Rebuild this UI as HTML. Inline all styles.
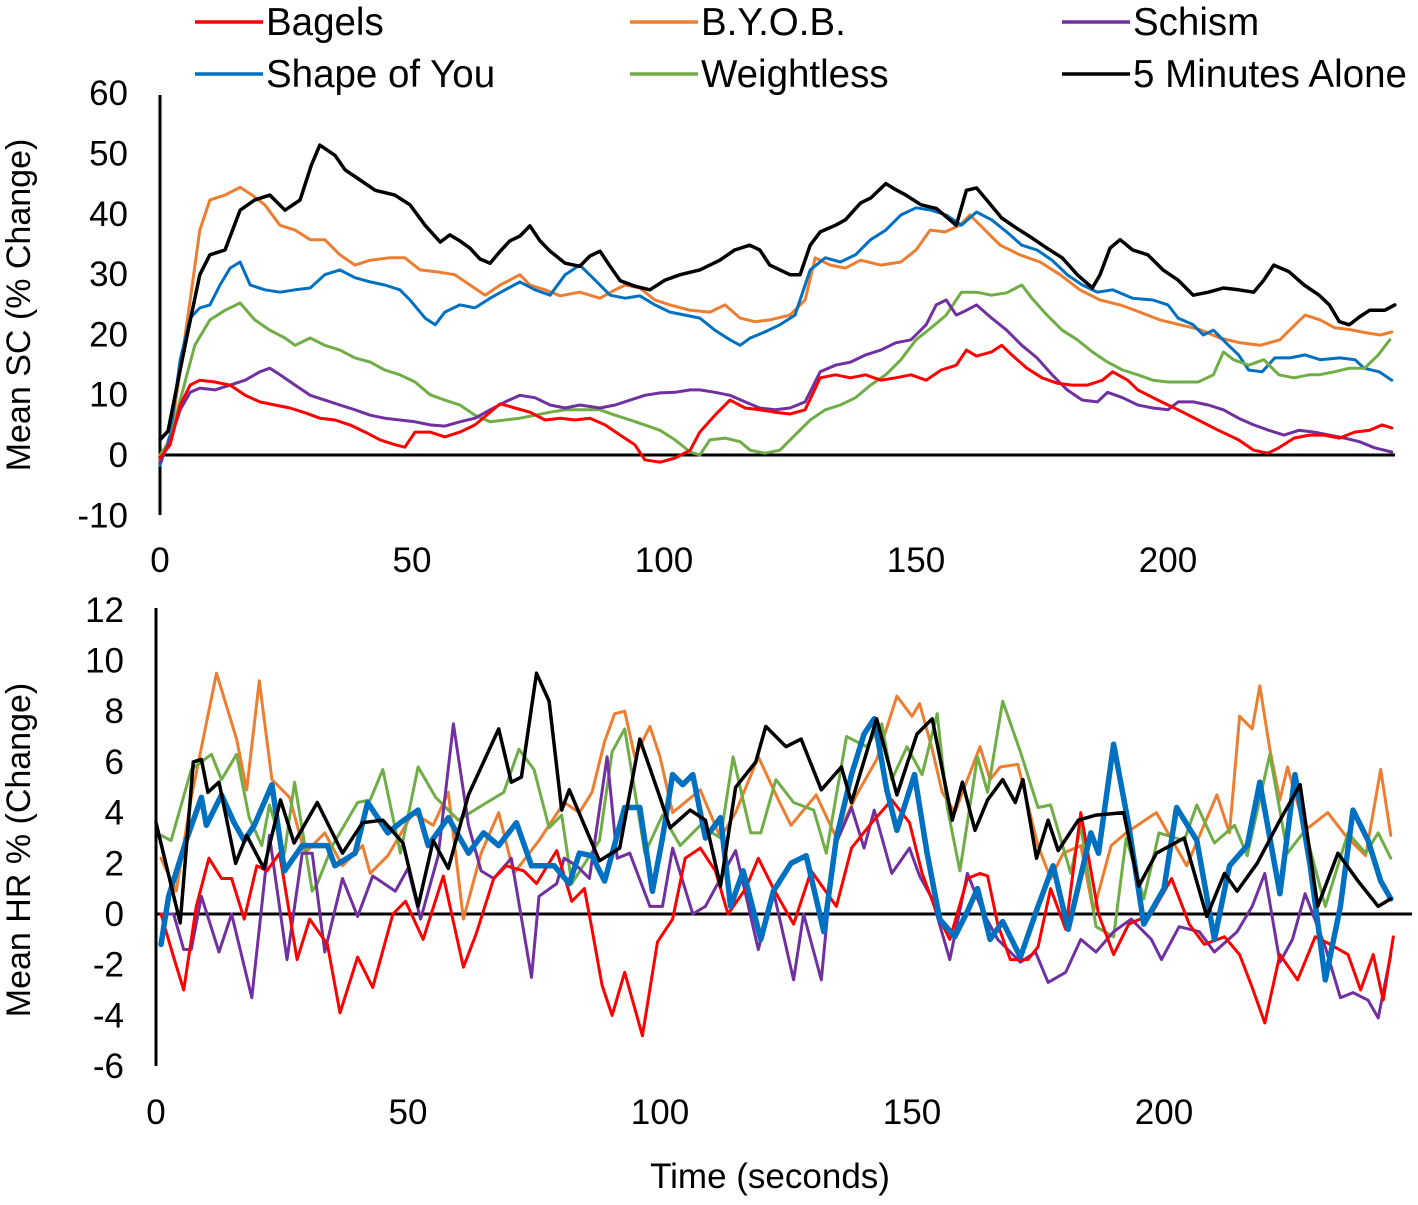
<!DOCTYPE html>
<html><head><meta charset="utf-8"><style>
html,body{margin:0;padding:0;background:#fff;}
svg{display:block;font-family:"Liberation Sans",Arial,sans-serif;}
</style></head><body>
<svg id="chart" width="1418" height="1205" viewBox="0 0 1418 1205" xmlns="http://www.w3.org/2000/svg">
<g id="legend"></g>
<g id="top"></g>
<g id="bot"></g>
<text x="0" y="0" font-size="34" text-anchor="middle" transform="translate(30,305) rotate(-90)">Mean SC (% Change)</text>
<text x="0" y="0" font-size="34" text-anchor="middle" transform="translate(30,850) rotate(-90)">Mean HR % (Change)</text>
<text x="770" y="1188" font-size="35" text-anchor="middle">Time (seconds)</text>
</svg>
<script>
const seriesNames=["Bagels","B.Y.O.B.","Schism","Shape of You","Weightless","5 Minutes Alone"];
const seriesColors=["#ff0000","#ed7d31","#7030a0","#0070c0","#70ad47","#000000"];
const topYTicks=[60,50,40,30,20,10,0,-10];
const botYTicks=[12,10,8,6,4,2,0,-2,-4,-6];
const xTicks=[0,50,100,150,200];

// ---- Top panel (SC) data ----
const scBagelsT=[0,2,4,6,7.9,10.9,13.9,16.9,19.8,22.8,25.8,28.8,31.7,34.7,37.7,40.7,43.7,46.6,48.6,50.6,53.6,56.5,59.5,62.5,65.5,67.5,70.4,73.4,76.4,79.4,82.3,85.3,88.3,91.3,94.2,96.2,99.2,102.2,105.2,107.1,110.1,113.1,116.1,119,122,125,128,131,134,137,140,143,146,149,152,155,158,160,162,165,167,169,172,175,178,181,184,187,189,192,194,198,202,206,210,214,217,219.8,222,225,228,231,234,237,240,242.5,244.4];
const scBagelsV=[-0.5,1.7,8.3,11.6,12.4,12.1,11.6,9.9,8.8,8.3,7.8,7,6.1,5.8,5,3.8,2.5,1.7,1.3,3.8,3.8,3,3.8,5,7.1,8.5,7.8,7.1,5.8,6.1,5.8,6.1,5,3.3,1.7,-0.8,-1.2,-0.5,0.8,3.8,6.6,9.1,7.8,7.5,7.1,6.8,7.5,12.8,13.3,12.8,13.3,12.4,12.8,13.3,12.4,14.1,14.9,17.4,16.4,17.1,18.2,16.6,14.4,12.8,11.9,11.6,11.6,12.4,13.8,12.4,10.8,9.1,7.5,5.8,4.1,2.5,0.8,0.3,1.2,2.8,3.3,3.3,2.8,3.8,4.1,5,4.5];
const scByobT=[0,2,4,6,7.9,9.9,12.9,15.9,18.3,20.8,23.8,26.8,29.8,32.7,35.7,38.7,41.7,45.6,48.6,51.6,55.6,58.5,61.5,64.5,67.5,69.4,71.4,73.4,76.4,79.4,83.3,87.3,90.3,92.3,95.2,98.2,101.2,105.2,109.1,112.1,115.1,118.1,121,125,128,130,133,136,139,143,147,150,152.8,155.8,158.7,160.7,163.7,166.7,170.6,174.6,178.6,182.5,186.5,190.5,194.4,198.4,202.4,206.3,210.3,214.3,218.3,222.2,225.2,227.2,230.2,233.1,236.1,239.1,242.1,244.4];
const scByobV=[-0.8,2.5,14.1,25.7,37.3,42.3,43.1,44.4,43.1,41.5,38.1,37.3,35.7,35.7,33.2,31.5,32.3,32.7,32.7,30.7,30.3,29.9,28.2,26.5,28.2,29,29.9,28.2,27.4,26.4,27,26,27.4,28.2,27.7,25.7,24.9,24,23.7,24.9,22.7,22.1,22.4,23.2,25.7,32.7,31.5,31,32.3,31.5,32,34,37.3,37,38.1,39.8,37.3,34.8,33.2,32,29.9,27.4,25.7,24.9,23.7,22.4,21.6,20.8,19.4,18.6,18.2,19.1,21.6,23.2,22.4,21.1,20.8,20.3,19.9,20.4];
const scSchismT=[0,2,4,6,7.9,10.9,13.9,16.9,19.8,21.8,23.8,26.8,29.8,32.7,35.7,38.7,41.7,44.6,47.6,50.6,53.6,56.5,59.5,62.5,65.5,68.5,71.4,74.4,77.4,80.4,83.3,87.3,90.3,93.3,96.2,99.2,102.2,105.2,107.1,110.1,113.1,116.1,119,122,125,128,131,134,137,140,143,146,149,152,154,156,158,160,162,165,168,171,174,177,180,183,186,188,191,194,197,200,202,205,208,211,214,217,220,223,226,229,232,235,238,241,244.4];
const scSchismV=[-1.2,2.5,7.5,10.4,11.1,10.8,11.6,12.4,13.8,14.4,13.3,11.6,9.9,9.1,8.3,7.5,6.6,6.1,5.8,5.5,5,4.8,5.5,6.1,7.5,8.8,9.9,9.5,8.3,7.8,8.3,7.8,8.3,9.1,9.9,10.3,10.4,10.8,10.8,10.4,9.9,8.8,7.8,7.5,7.8,8.8,13.8,14.9,15.4,16.6,17.4,18.6,19.1,21.6,24.9,25.7,23.2,24,24.9,22.7,20.7,18.2,16.1,13.3,10.8,9.1,8.8,10.4,9.5,8.3,7.8,7.5,8.8,8.8,8.3,7.5,6.1,5,4.1,3.3,4.1,3.8,3.3,2.8,2.2,1.2,0.5];
const scShapeT=[0,2,4,6,7.9,9.9,11.9,13.9,15.9,17.9,20.8,23.8,26.8,29.8,32.7,35.7,38.7,41.7,44.6,47.6,49.6,52.6,54.6,56.5,59.5,62.5,65.5,68.5,71.4,74.4,77.4,80.4,83.3,86.3,89.3,92.3,95.2,98.2,101.2,104.2,107.1,110.1,113.1,115.1,117.1,120,123,126,129,132,135,138,141,144,147,150,153,156,159,162,165,168,171,174,177,180,183,186,189,193,197,200,202,205,207,209,212,214,216,218.7,221.2,224.2,227.2,230.2,234.1,237.1,238.9,241.9,244.4];
const scShapeV=[-1.7,3.3,15.8,22.7,24.4,24.9,28.2,31,32,28.2,27.4,27,27.4,27.7,29.9,30.7,29.4,28.7,28.2,27.4,25.7,22.7,21.6,23.7,24.9,24.4,26,27.4,28.7,27.4,26.5,29.9,31.5,29,26.5,26,26.4,24.9,23.7,23.2,22.7,20.7,19.1,18.2,19.4,20.4,21.6,23.2,30.7,32.7,32,33.2,35.7,37.3,39.8,41,40.6,39.8,38.1,40.3,39,37,34.8,34,32.3,29.9,28.2,27,27.4,26,25.7,24.9,22.7,21.6,19.9,20.7,18.2,16.6,14.1,13.8,16.1,16.1,16.6,15.8,16.1,15.8,14.4,13.8,12.4];
const scWeightT=[0,2,4,6.9,9.9,12.9,15.9,18.8,21.8,24.8,26.8,29.8,32.7,35.7,38.7,41.7,44.6,47.6,50.6,53.6,56.5,59.5,62.5,65.5,68.5,71.4,74.4,77.4,80.4,83.3,87.3,90.3,93.3,96.2,99.2,102.2,105.2,107.1,109.1,112.1,115.1,117.1,120,123,126,129,132,135,138,141,144,147,150,153,156,159,162,165,168,171,173,176,179,182,185,188,191,194,197,200,203,206,209,211,213,216,219,222,225,228,230,233,236,239,241.7,244];
const scWeightV=[0,2.5,9.1,18.2,22.4,24,25.2,22.4,20.7,19.4,18.2,19.4,18.2,17.4,16.1,15.4,14.1,13.3,12.1,10,9.1,8.3,6.6,5.5,5.8,6.1,6.6,7.1,7.5,7.5,7.5,6.6,5.8,5,4.1,2.5,0.5,0,2.5,2.8,2.2,0.8,0.3,0.8,3.3,5.8,7.5,8.3,9.5,11.6,13.3,15.8,19.1,21.1,23.2,27,27,26.5,26.9,28.2,26,23.2,20.7,19.1,17.1,15.4,14.1,13.3,12.4,12.1,12.1,12.1,13.3,17.1,15.8,14.9,15.8,13.3,12.8,13.3,13.3,13.8,14.4,14.4,16.6,19.1];
const scFiveT=[0,1.6,3.6,5.6,7.9,9.9,12.9,15.9,18.8,21.8,24.8,27.8,30,31.7,34.7,36.7,39.7,42.7,46.6,49.6,52.6,55.6,57.5,59.5,61.5,63.5,65.5,67.5,69.4,71.4,73.4,75.4,77.4,80.4,83.3,85.3,87.3,89.3,91.3,94.2,97.2,100.2,103.2,107.1,111.1,114,117,119,121,125,127,129,131,134,136,139,141,144,146,148,151,154,156,158,160,162,164,167,170,173,176,179,182,185,186.5,188.5,190.5,193,196,199,202,205,208,211,214,217,219,221,224,227,230,232,234,236,238,240,243,245];
const scFiveV=[2.5,4,12.4,20.7,29.9,33.2,34,40.6,42.3,43.1,40.6,42.3,48,51.4,49.7,47.3,45.6,43.9,43.1,41.5,38.1,35.3,36.5,35.5,34.3,32.5,31.8,33.8,35.5,36.3,38,35.5,33.8,31.8,31.3,33,33.8,31.3,28.9,28,27.4,29,29.9,30.7,32.3,34,34.8,34,31.5,29.9,29.9,34.8,37,38.1,39,41.8,42.6,45,44,43.1,41.5,40.9,39.5,38.1,43.9,44.3,42.3,39.3,37.6,36,34.3,32.7,29.9,27.7,29.9,34.3,35.7,34,33.2,30.7,29,26.5,27,27.7,27.4,27,29,31.5,30.4,28.2,26.5,24.9,22.1,21.6,22.9,24,24,24.9];

// ---- Bottom panel (HR) data ----
const hrBagelsT=[1,3.5,5.5,8,10.5,13,15,17.5,20,22,24.5,28,30.5,34,36.5,40,43,47,49.5,53,57,61,63.5,67,69.5,73,75.5,79.5,82.5,85,86.5,88.5,90.5,93,96.5,99.5,102.5,105,108,111,113.5,117,119.5,122.5,126.5,130,135,138,142,146,149.5,152,155,157.5,161,163.5,165,167,169.5,173,175,177.5,180.5,183.5,187,190,193,197.5,201.5,205,208,212,215,217.5,220,223,226.5,230,233,236.5,239,241.5,243.5,245.5];
const hrBagelsV=[0,-1.7,-3,0.3,2.2,1.4,1.4,-0.2,1.9,1.7,2.4,-1.8,-0.2,-1.2,-3.9,-1.7,-2.9,0,0.5,-1,1.5,-2.1,-0.8,1.4,1.9,1.7,1.2,2.5,0.5,1,-0.6,-2.8,-4,-2.3,-4.8,-1.1,-0.2,2.2,2.6,1.7,0,1,2.2,1,-0.4,1.7,0.3,2.6,3.6,4.5,3.6,1.6,0,-1,1.4,1.6,1.5,-0.4,-1.8,-1.8,-1.3,1,-0.6,4,0,-1.6,-0.4,0,1.4,-0.4,-1.2,-0.9,-1.6,-2.9,-4.3,-1.6,-2.6,-0.9,-1.2,-1.6,-3,-1.6,-3.4,-0.9];
const hrByobT=[1,4,7,12,16,18,20.5,23,26.5,29.5,33.5,37,41,42.5,46,51,55,58,61,64.5,68,71,76,81,84,86.5,89,91,93,95,98,100,102.5,108,112,115,119.5,123.5,126,131,135,139,143,147,150,151.5,154,156,158.5,163.5,165.5,167.5,171,175,177.5,180,183.5,186,189.5,192.5,198.5,204.5,210.5,213,215,217.5,219,221,223,224.5,228,232.5,236,240,243,245];
const hrByobV=[2.2,0.9,4.6,9.5,6.9,4.9,9.2,5.3,4.6,2.4,3.2,1.9,2.7,1.6,2.3,4,3.5,4.8,-0.2,2.4,4,1.6,2.9,4.4,4,4.8,6.8,7.9,8,6.2,7.4,6.2,4,4.9,3,4,6.2,4.5,3.5,4.7,3,4.7,6.1,8.6,7.8,8.3,6.5,4.8,4,6.6,5.3,5.8,5.9,2.7,1.4,2.4,2.7,0.1,2.7,3.2,4,1.9,4.7,3.2,7.8,7.3,9,6.5,4.5,5.8,3.3,4,3.1,2.3,5.7,3.1];
const hrSchismT=[1,3.5,5.5,7,9,12.5,15,19,22.5,26,29,31,33.5,37,40,43,47.5,50,52.5,56,59,62,64.5,67,70.5,74.5,76,79.5,81,83.5,86,89.5,91.5,94,98,100.5,102.5,106.5,109,112,115,119.5,122.5,126.5,128.5,132,134.5,138,140.5,142.5,146,149.5,151.5,154,157.5,161,164,167,169,171.5,174.5,177,180.5,183.5,186.5,190,193.5,197.5,199.5,203,207,210,214.5,217.5,220,223,225.5,228,232,235,237.5,240.5,242.5,245];
const hrSchismV=[0,0,-1.4,-1.4,0.7,-1.5,0,-3.3,3.1,-1.8,2.4,2.4,-1.5,1.4,-0.1,1.5,0.9,1.8,-0.2,2.3,7.5,3.5,1.7,1.4,2.2,-2.5,0.7,1.2,2.2,1.9,1.4,6.2,2.2,2.4,0.3,0.3,2.6,0,0.3,1.4,2.5,-1.4,0.9,-2.6,0,-2.6,2.6,4.2,2.6,4.1,1.6,2.6,1.5,0.6,-1.8,1.6,0.1,-1,-1.4,-1.9,-1.5,-2.7,-2.3,-1,-1.5,-0.7,-0.2,-1,-1.8,-0.5,-0.7,-1.5,-0.7,0.3,1.6,-1.9,-1,0.8,-1.3,-3.3,-3.1,-3.4,-4.1,-1.6];
const hrShapeT=[1,2.5,6,9,10,13,15.5,17.5,19.5,23,25.5,29,34,35.5,39.5,42,46,48.5,52,54,58,62,65,68,71.5,74.5,79,82,84,86.5,89,93,96,98.5,100.5,102.5,104.5,106.5,109,112,114,116.5,120,122.5,126,129,132.5,135,138,140.5,142.5,145,147,150.5,153,155.5,158.5,161,163,165.5,168,171.5,175,178,181,185.5,187,190,193,196,200,202.5,206.5,210,213,216.5,219,223,226,229,232,235,237.5,240.5,243,245];
const hrShapeV=[-1.2,0.7,2.9,4.6,3.5,4.7,3.6,2.9,3.5,5.1,1.7,2.7,2.7,1.9,2.4,4.4,3.2,3.6,4.1,2.7,3.8,2.4,3.2,2.7,3.6,1.9,1.9,1.2,2.4,2.3,1.3,4.2,4.2,0.9,3,5.5,5.1,5.5,3,3.8,0.3,1.7,-1,0.9,2,2.3,-0.7,3,5.5,7.1,7.7,4.9,3.3,5.5,2.4,-0.2,-0.9,0.1,1,-1,-0.3,-1.7,0.3,1.9,-0.6,3.2,2.4,6.7,3.5,-0.4,1,4.2,2.9,-1,1.9,2.7,5.2,0.8,5.5,1.9,-2.6,0.3,4.1,2.9,1.3,0.6];
const hrWeightT=[1,3,7,11,13,16,18.5,21,22.5,25.5,27.5,31,32,35,40,42.5,45,48.5,52,55.5,60,64,69,72,75,78,80.5,82.5,88,90.5,93,97,100.5,104,108,112,114.5,118,120,123,126.5,130.5,133,137,141,144,146,149,152,155,157,159.5,163,165,168,171.5,175,177.5,181.5,183.5,186.5,190,192.5,196,199,204,206.5,210,214,216.5,221,224.5,228,232,236.5,240,242.5,245];
const hrWeightV=[3.1,2.9,5.7,6.3,5.3,6.3,3.8,2.7,4.3,2.4,5.2,0.9,1.2,2.7,4.4,4.5,5.7,2.4,5.8,4.6,3.7,4.2,4.8,6.5,5.7,3.4,3.9,1.2,2.9,6.4,7.3,2.4,3.9,2.7,3.5,3,6.2,3.2,3.2,5.3,4.4,4.1,2.4,7,6.6,7.5,5.3,6.6,5.5,7.9,4.2,1.7,6.2,4.8,8.4,6.4,4.2,4.3,1.6,3.5,-0.5,-0.9,3,0.6,3.2,2.9,4.3,2.8,3.5,2.3,6.3,2.4,3.3,0.3,3.2,2.4,3.2,2.2];
const hrFiveT=[0,4.8,7.4,9,10.3,12.5,15.8,18,21.4,24.7,27.4,32,37,41,45,49,52,55,58,62,68,70.5,72.5,75.5,78,80.5,82,88,92,96,100,102,106,109,112,115,119,121,125,128,132,136,138,143,147,151,154,158,160,162.5,165,168,170.5,172,174.7,177,179,183,186.5,192,195,198.5,204,208.5,212,214.5,218.5,223,227,230.5,234.5,238.5,242.5,245];
const hrFiveV=[3.6,-0.35,6,6.1,4.8,5.2,2,3.1,1.8,4.5,2.8,4.4,2.4,3.6,3.7,2.8,0.3,2.9,1.8,4.7,7.3,5.2,5.4,9.5,8.4,4.1,4.9,2.1,2.6,6.9,4.6,3.4,4.1,3.7,1.1,5,6,7.4,6.6,6.9,4.9,5.8,4.4,7.7,4.7,7.1,7.7,3.7,5.2,3.3,4.5,5.3,4.4,5.3,2.2,3.7,2.5,3.7,3.9,4,1.1,2.4,3,-0.1,1.6,0.9,2,3.7,5.1,0.3,2.4,1.3,0.3,0.6];

const NS="http://www.w3.org/2000/svg";
function mk(tag,attrs,parent){const e=document.createElementNS(NS,tag);for(const k in attrs)e.setAttribute(k,attrs[k]);parent.appendChild(e);return e;}

// axis functions
const topX=t=>160+t*5.04, topY=v=>455-v*6.03;
const botX=t=>156+t*5.04, botY=v=>914-v*25.35;

function panel(g,xf,yf,yTicks,xAxisY,yTop,yBot,yAxisX,xEnd,tickLabelY,prefix,sets){
  yTicks.forEach(v=>{
    const t=mk('text',{x:yAxisX-32,y:yf(v)+12,'font-size':35,'text-anchor':'end'},g);
    t.textContent=v;
    
    
  });
  xTicks.forEach(v=>{
    const t=mk('text',{x:xf(v),y:tickLabelY,'font-size':35,'text-anchor':'middle'},g);
    t.textContent=v;
    
    
  });
  const ya=mk('line',{x1:yAxisX,y1:yTop,x2:yAxisX,y2:yBot,stroke:'#000','stroke-width':3},g);
  
  
  const xa=mk('line',{x1:yAxisX,y1:xAxisY,x2:xEnd,y2:xAxisY,stroke:'#000','stroke-width':3},g);
  
  
  sets.forEach(s=>{
    const d=s.T.map((t,i)=>(i?'L':'M')+xf(t).toFixed(1)+' '+yf(s.V[i]).toFixed(1)).join(' ');
    const p=mk('path',{d:d,fill:'none',stroke:seriesColors[s.c],'stroke-width':s.w,'stroke-linejoin':'round','stroke-linecap':'round'},g);
    
    
  });
}

panel(document.getElementById('top'),topX,topY,topYTicks,455,95,515,160,1395,572,'sc',[
  {T:scByobT,V:scByobV,c:1,w:3},
  {T:scShapeT,V:scShapeV,c:3,w:3},
  {T:scWeightT,V:scWeightV,c:4,w:3},
  {T:scSchismT,V:scSchismV,c:2,w:3},
  {T:scBagelsT,V:scBagelsV,c:0,w:3},
  {T:scFiveT,V:scFiveV,c:5,w:3.5}
]);
panel(document.getElementById('bot'),botX,botY,botYTicks,914,608,1066,156,1412,1124,'hr',[
  {T:hrByobT,V:hrByobV,c:1,w:3},
  {T:hrWeightT,V:hrWeightV,c:4,w:3},
  {T:hrSchismT,V:hrSchismV,c:2,w:3},
  {T:hrBagelsT,V:hrBagelsV,c:0,w:3},
  {T:hrShapeT,V:hrShapeV,c:3,w:5.5},
  {T:hrFiveT,V:hrFiveV,c:5,w:3.5}
]);

// legend
const legX=[195,630,1062], legY=[22,74];
const lg=document.getElementById('legend');
seriesNames.forEach((n,i)=>{
  const col=i%3,row=Math.floor(i/3);
  const g=mk('g',{},lg);
  
  
  mk('line',{x1:legX[col],y1:legY[row],x2:legX[col]+68,y2:legY[row],stroke:seriesColors[i],'stroke-width':3.5},g);
  const t=mk('text',{x:legX[col]+71,y:legY[row]+13,'font-size':38.5},g);
  t.textContent=n;
});
</script>
</body></html>
